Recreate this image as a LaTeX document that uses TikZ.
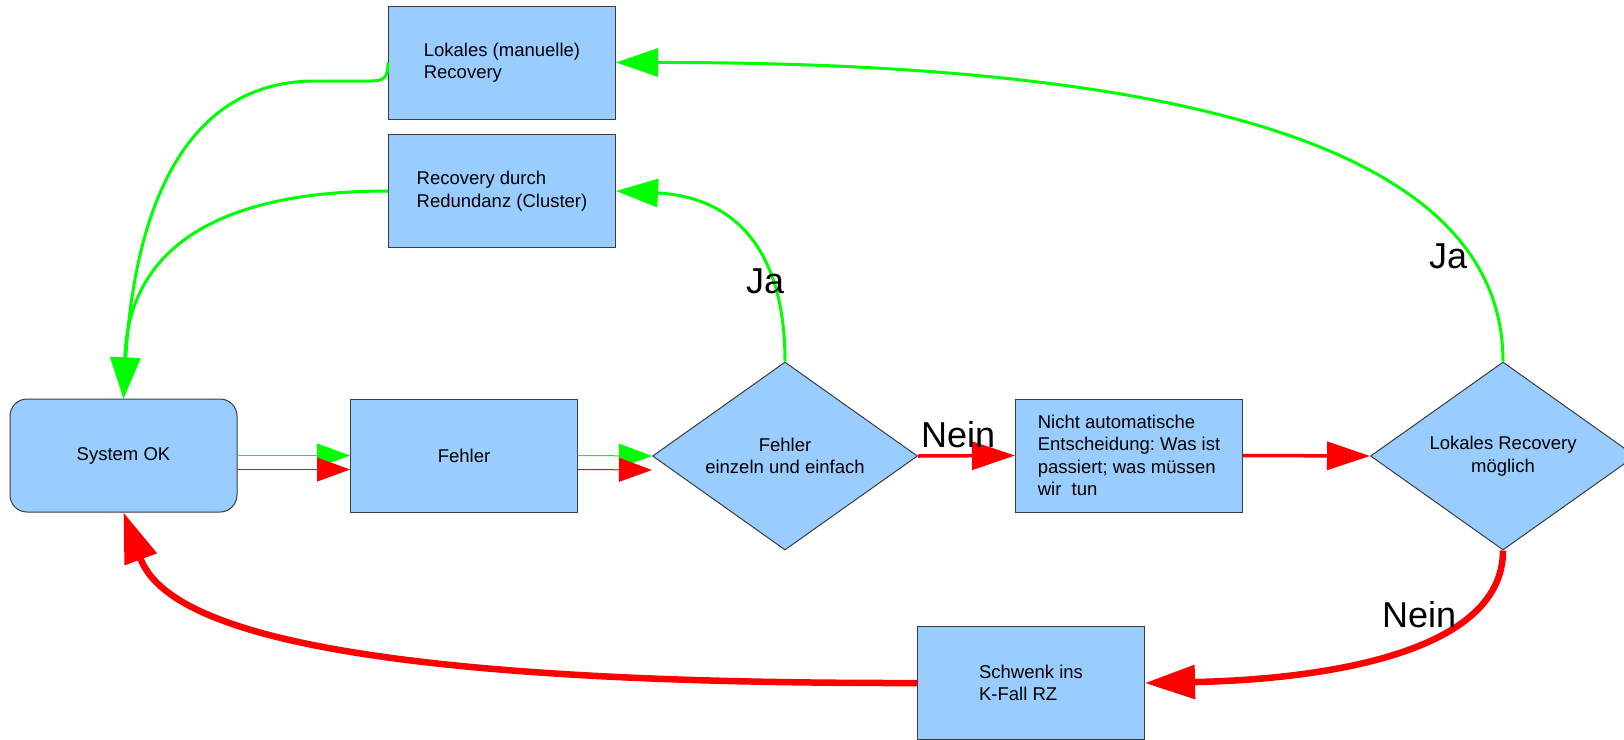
\documentclass[tikz,border=0pt]{standalone}
\usepackage{fontspec}
\setmainfont{Liberation Sans}
\usetikzlibrary{arrows.meta,shapes.geometric}
\definecolor{boxfill}{HTML}{99CCFF}
\definecolor{boxline}{HTML}{3C3C3C}
\definecolor{gr}{HTML}{00FF00}
\definecolor{rd}{HTML}{FF0000}
\frenchspacing
\begin{document}
\begin{tikzpicture}[x=1pt,y=-1pt,
  every node/.style={font=\fontsize{18.5pt}{22.5pt}\selectfont},
  proc/.style={draw=boxline, fill=boxfill, line width=1pt, minimum width=227pt, minimum height=113pt, inner sep=0pt, align=left},
  dec/.style={diamond, draw=boxline, fill=boxfill, line width=1pt, minimum width=265pt, minimum height=188pt, inner sep=0pt, aspect=1.41, align=center},
  thinarrow/.style={line width=1pt, -{Triangle[length=33pt,width=24pt]}},
  midarrow/.style={line width=3.5pt, -{Triangle[length=43pt,width=28pt]}},
  grarrow/.style={line width=3pt, -{Triangle[length=42pt,width=28pt]}},
  sysarrow/.style={line width=3pt, -{Triangle[length=41pt,width=29pt]}},
  bigarrow/.style={line width=6.5pt, -{Triangle[length=50pt,width=33pt]}},
  lab/.style={font=\fontsize{36pt}{40pt}\selectfont, inner sep=0pt, anchor=base west}
]
\useasboundingbox (0,0) rectangle (1624,739);

% nodes
\node[proc, rounded corners=17pt] (sys) at (123.5,455.5) {System OK};
\node[proc] (feh) at (464,455.5) {Fehler};
\node[dec] (d1) at (785,456) {Fehler\\einzeln und einfach};
\node[proc] (nicht) at (1129,455.5) {Nicht automatische\\Entscheidung: Was ist\\passiert; was müssen\\wir\ \ tun};
\node[dec] (d2) at (1503,456) {Lokales Recovery\\möglich};
\node[proc] (lr) at (502,62.5) {Lokales (manuelle)\\Recovery};
\node[proc] (rd) at (502,191) {Recovery durch\\Redundanz (Cluster)};
\node[proc] (sch) at (1031,683) {Schwenk ins\\K-Fall RZ};

% thin parallel connectors
\draw[gr, thinarrow] (sys.east) -- (feh.west);
\draw[rd, thinarrow] ([yshift=-14pt]sys.east) -- ([yshift=-14pt]feh.west);
\draw[gr, thinarrow] (feh.east) -- (d1.west);
\draw[rd, thinarrow] ([yshift=-14pt]feh.east) -- ([yshift=-14pt]d1.west);

% red straight connectors
\draw[rd, midarrow] (d1.east) -- (nicht.west);
\draw[rd, midarrow] (nicht.east) -- (d2.west);

% green curves
\draw[gr, grarrow] (d1.north) .. controls (785,215) and (700,195) .. (rd.east);
\draw[gr, grarrow] (d2.north) .. controls (1503,190) and (1300,62) .. (lr.east);
\draw[gr, sysarrow] (lr.west) .. controls (388,78) and (384,81) .. (370,81) -- (315,81) .. controls (165,81) and (132,250) .. (sys.north);
\draw[gr, sysarrow] (rd.west) .. controls (200,191) and (128,260) .. (sys.north);

% red thick curves
\draw[rd, bigarrow] (d2.south) .. controls (1503,660) and (1300,680) .. (sch.east);
\draw[rd, bigarrow] (sch.west) .. controls (330,684) and (165,625) .. (sys.south);

% labels
\node[lab] (ja1) at (746,293) {Ja};
\node[lab] (ja2) at (1429,268) {Ja};
\node[lab] (nein1) at (921,447) {Nein};
\node[lab] (nein2) at (1382,627) {Nein};
\end{tikzpicture}
\end{document}
